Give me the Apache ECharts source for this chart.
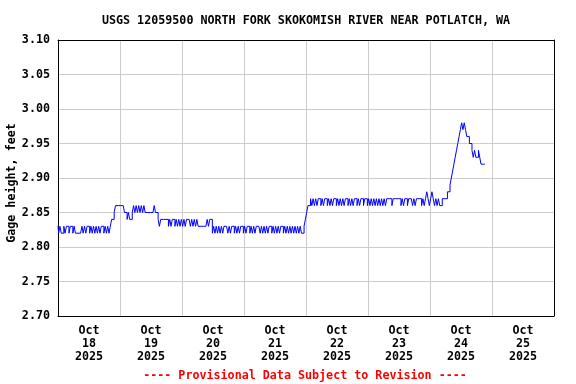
<!DOCTYPE html>
<html>
<head>
<meta charset="utf-8">
<script src="https://cdn.jsdelivr.net/npm/echarts@6/dist/echarts.min.js"></script>
<style>
html,body{margin:0;padding:0;background:#fff;}
#chart{width:576px;height:384px;}
</style>
</head>
<body>
<div id="chart"></div>
<script>
// Gage height (feet), half-hourly readings, one array per day starting at 00:00
var oct18 = [2.83,2.82,2.83,2.82,2.82,2.83,2.82,2.83,2.83,2.82,2.83,2.83,2.82,2.83,
  2.82,2.82,2.82,2.82,2.82,
  2.83,2.82,2.83,2.82,2.83,2.83,2.82,2.83,2.82,2.83,2.82,2.83,2.82,2.83,2.82,2.83,2.83,2.82,2.83,2.82,2.83,2.82,2.83,
  2.84,2.84,2.85,2.86,2.86,2.86];
var oct19 = [2.86,2.86,2.86,2.86,2.85,2.85,2.84,2.85,2.84,2.84,
  2.85,2.86,2.85,2.86,2.85,2.86,2.85,2.86,2.85,2.86,2.85,
  2.85,2.85,2.85,2.85,2.85,2.85,2.86,2.85,2.85,
  2.84,2.83,2.84,2.84,2.84,2.84,2.84,2.84,
  2.83,2.84,2.83,2.84,2.84,2.83,2.84,2.83,2.84,2.83];
var oct20 = [2.84,2.83,2.84,2.83,2.84,2.84,2.84,2.83,2.84,2.83,2.84,2.83,2.84,2.83,
  2.83,2.83,2.83,2.83,2.83,2.83,
  2.84,2.83,2.84,2.84,
  2.82,2.83,2.82,2.83,2.82,2.83,2.82,2.83,2.82,2.83,2.83,2.83,
  2.82,2.83,2.82,2.83,2.83,2.82,2.83,2.82,2.83,2.82,2.83,2.83];
var oct21 = [2.82,2.83,2.82,2.83,2.83,2.82,2.83,2.82,2.83,2.82,2.83,2.83,2.83,2.82,2.83,2.82,
  2.83,2.82,2.83,2.82,2.83,2.83,2.82,2.83,2.82,2.83,2.82,2.83,2.82,2.83,2.83,2.82,
  2.83,2.82,2.83,2.82,2.83,2.82,2.83,2.82,2.83,2.82,2.83,2.82,2.83,2.82,2.82,2.83];
var oct22 = [2.84,2.85,2.86,2.86,2.87,2.86,2.87,2.86,2.87,2.86,2.87,2.87,2.86,2.87,2.86,2.87,
  2.87,2.86,2.87,2.86,2.87,2.86,2.87,2.87,2.86,2.87,2.86,2.87,2.86,2.87,2.86,2.87,
  2.87,2.86,2.87,2.86,2.87,2.86,2.87,2.87,2.86,2.87,2.86,2.87,2.87,2.86,2.87,2.87];
var oct23 = [2.86,2.87,2.86,2.87,2.86,2.87,2.86,2.87,2.86,2.87,2.86,2.87,2.86,2.87,2.86,2.87,
  2.87,2.87,2.87,2.86,2.87,2.87,2.87,2.87,2.87,2.87,
  2.86,2.87,2.86,2.87,2.87,2.86,2.87,2.87,2.87,2.86,2.87,2.86,2.87,2.87,2.87,2.87,
  2.86,2.87,2.86,2.87,2.88,2.87];
var oct24 = [2.86,2.87,2.88,2.87,2.86,2.87,2.86,2.87,2.86,2.86,2.87,2.87,2.87,2.87,
  2.88,2.88,2.89,2.90,2.91,2.92,2.93,2.94,2.95,2.96,2.97,2.98,2.97,2.98,2.97,
  2.96,2.96,2.95,2.95,2.94,2.93,2.94,2.93,2.93,2.94,2.93,2.92,2.92,2.92,2.92];

var days = [oct18, oct19, oct20, oct21, oct22, oct23, oct24];
var dayLabels = ['Oct\n18\n2025','Oct\n19\n2025','Oct\n20\n2025','Oct\n21\n2025',
                 'Oct\n22\n2025','Oct\n23\n2025','Oct\n24\n2025','Oct\n25\n2025'];
var titleText = 'USGS 12059500 NORTH FORK SKOKOMISH RIVER NEAR POTLATCH, WA';
var footerText = '---- Provisional Data Subject to Revision ----';
var yLabel = 'Gage height, feet';

var points = [];
days.forEach(function (arr, d) {
  arr.forEach(function (v, i) { points.push([d * 24 + i * 0.5, v]); });
});

var FONT = '"DejaVu Sans Mono", monospace';
var chart = echarts.init(document.getElementById('chart'), null, {renderer: 'canvas'});
chart.setOption({
  animation: false,
  backgroundColor: '#ffffff',
  grid: {left: 58, right: 22, top: 40, bottom: 68, containLabel: false},
  xAxis: [
    {type: 'value', min: 0, max: 192, interval: 24, position: 'bottom',
     axisLine: {show: true, onZero: false, lineStyle: {color: '#000', width: 1}},
     axisTick: {show: false}, axisLabel: {show: false},
     splitLine: {show: true, lineStyle: {color: '#cccccc', width: 1}}},
    {type: 'category', data: dayLabels, position: 'bottom', boundaryGap: true,
     axisLine: {show: false}, axisTick: {show: false}, splitLine: {show: false},
     axisLabel: {show: true, interval: 0, margin: 8, color: '#000', fontFamily: FONT,
                 fontWeight: 'bold', fontSize: 11.7, lineHeight: 13}},
    {type: 'value', min: 0, max: 192, position: 'top',
     axisLine: {show: true, onZero: false, lineStyle: {color: '#000', width: 1}},
     axisTick: {show: false}, axisLabel: {show: false}, splitLine: {show: false}}
  ],
  yAxis: [
    {type: 'value', min: 2.7, max: 3.1, interval: 0.05, position: 'left',
     axisLine: {show: true, onZero: false, lineStyle: {color: '#000', width: 1}},
     axisTick: {show: false},
     axisLabel: {margin: 8, color: '#000', fontFamily: FONT, fontWeight: 'bold', fontSize: 11.7,
                 formatter: function (v) { return v.toFixed(2); }},
     splitLine: {show: true, lineStyle: {color: '#cccccc', width: 1}}},
    {type: 'value', min: 2.7, max: 3.1, position: 'right',
     axisLine: {show: true, onZero: false, lineStyle: {color: '#000', width: 1}},
     axisTick: {show: false}, axisLabel: {show: false}, splitLine: {show: false}}
  ],
  series: [{
    type: 'line', xAxisIndex: 0, yAxisIndex: 0, data: points,
    showSymbol: false, step: 'middle',
    lineStyle: {color: '#0000ff', width: 1}, z: 5
  }],
  graphic: [
    {type: 'text', x: 306, y: 20.5, style: {text: titleText, textAlign: 'center', textVerticalAlign: 'middle',
      font: 'bold 11.7px ' + FONT, fill: '#000'}},
    {type: 'text', x: 305, y: 375.5, style: {text: footerText, textAlign: 'center', textVerticalAlign: 'middle',
      font: 'bold 11.7px ' + FONT, fill: '#ff0000'}},
    {type: 'text', x: 12, y: 183, rotation: Math.PI / 2, style: {text: yLabel, textAlign: 'center',
      textVerticalAlign: 'middle', font: 'bold 11.7px ' + FONT, fill: '#000'}}
  ]
});
</script>
</body>
</html>
